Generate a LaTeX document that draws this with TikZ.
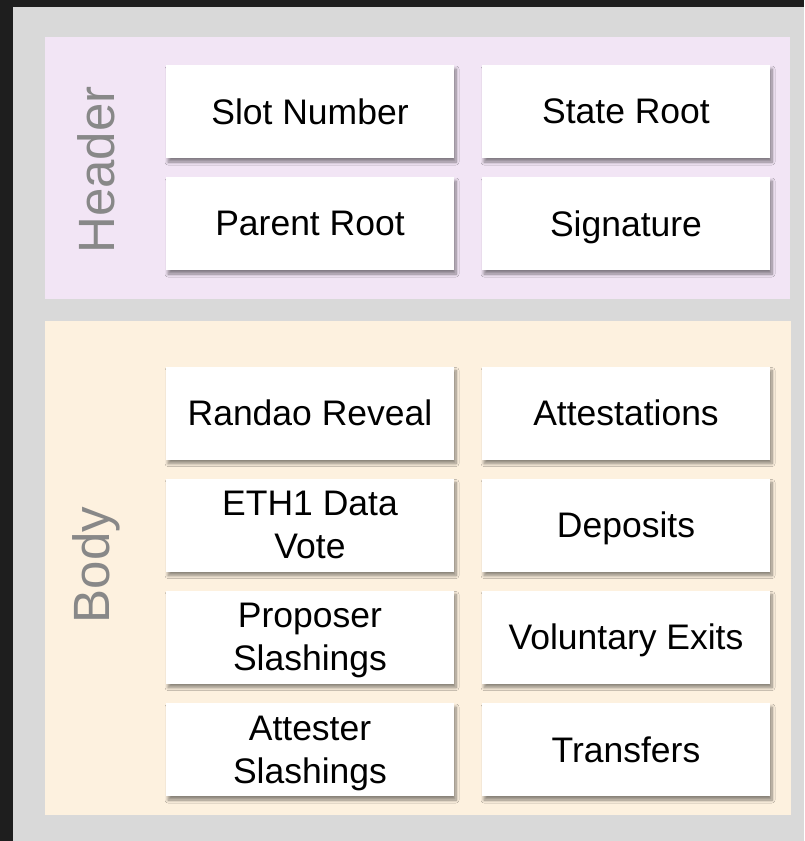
\documentclass[tikz,border=0pt]{standalone}
\usepackage{fontspec}
\setmainfont{Liberation Sans}
\usetikzlibrary{shadows.blur}

\definecolor{pagedark}{HTML}{1E1E1E}
\definecolor{panelgray}{HTML}{D9D9D9}
\definecolor{headerpink}{HTML}{F2E5F5}
\definecolor{bodycream}{HTML}{FDF1DF}
\definecolor{labelgray}{HTML}{888888}

\begin{document}
\begin{tikzpicture}[x=1pt, y=-1pt,
    card/.style={fill=white, minimum width=288pt, minimum height=93pt,
        inner sep=0pt, align=center, text depth=0pt,
        font=\fontsize{35.5}{43}\selectfont,
        blur shadow={shadow xshift=2pt, shadow yshift=-4pt,
            shadow blur radius=3pt, shadow opacity=45,
            shadow blur steps=8}},
    grouplabel/.style={rotate=90, text=labelgray,
        font=\fontsize{51}{51}\selectfont}]

    % 1. background and the two section panels
    \useasboundingbox (0,0) rectangle (804,841);
    \fill[pagedark] (0,0) rectangle (804,841);
    \fill[panelgray] (13,7) rectangle (804,841);
    \fill[headerpink] (45,37) rectangle (790,299);
    \fill[bodycream] (45,321) rectangle (791,815);

    % 2. section labels
    \node[grouplabel] (headerlabel) at (96,170) {Header};
    \node[grouplabel] (bodylabel) at (96,565) {Body};

    % 3. header fields
    \node[card] (slot) at (310,111.5) {Slot Number};
    \node[card] (stateroot) at (626,111.5) {State Root};
    \node[card] (parent) at (310,223.5) {Parent Root};
    \node[card] (signature) at (626,223.5) {Signature};

    % 4. body fields
    \node[card] (randao) at (310,413) {Randao Reveal};
    \node[card] (attestations) at (626,413) {Attestations};
    \node[card] (eth1) at (310,525) {ETH1 Data\\Vote};
    \node[card] (deposits) at (626,525) {Deposits};
    \node[card] (propslash) at (310,637) {Proposer\\Slashings};
    \node[card] (exits) at (626,637) {Voluntary Exits};
    \node[card] (attslash) at (310,749.5) {Attester\\Slashings};
    \node[card] (transfers) at (626,749.5) {Transfers};

\end{tikzpicture}
\end{document}
